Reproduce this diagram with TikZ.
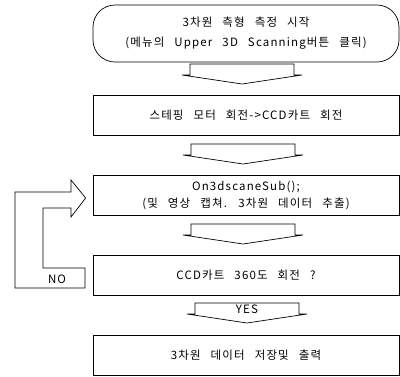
\documentclass[tikz,border=0pt]{standalone}
\usepackage{fontspec}
\setmainfont{Noto Sans CJK KR}[LetterSpace=10,WordSpace=2.7]
\usetikzlibrary{calc}
\begin{document}
\begin{tikzpicture}[x=1pt,y=-1pt,line width=0.7pt,
  txt/.style={font=\fontsize{11.5}{17}\selectfont},
  box/.style={draw,txt,minimum width=306pt,minimum height=40pt,inner sep=0pt,align=center},
  blk/.style={draw,line join=miter},
  blockarrow/.pic={\draw[blk] (-52,0) -- (52,0) -- (52,11) -- (60,11) -- (0,20) -- (-60,11) -- (-52,11) -- cycle;}
  ]
\useasboundingbox (0,0) rectangle (400,376);
\node[box,rounded corners=22pt,minimum height=57pt] (start) at (246,33.5)
  {3차원 측형 측정 시작\\[3pt](메뉴의 Upper 3D Scanning버튼 클릭)};
\node[box] (b2) at (246,115) {스테핑 모터 회전->CCD카트 회전};
\node[box] (b3) at (246,195) {On3dscaneSub();\\(및 영상 캡쳐. 3차원 데이터 추출)};
\node[box] (b4) at (246,275) {CCD카트 360도 회전 ?};
\node[box] (b5) at (246,355) {3차원 데이터 저장및 출력};
\pic at (242,64) {blockarrow};
\pic at (243,144) {blockarrow};
\pic at (243,224) {blockarrow};
\pic at (247,303) {blockarrow};
\node[txt] (yes) at (247,309) {YES};
\draw[blk] (85,288) -- (15,288) -- (15,192) -- (71,192) -- (71,180)
  -- ($(b3.west)+(-7,3)$) -- (71,217) -- (71,208) -- (43,208) -- (43,268) -- (85,268) -- cycle;
\node[txt] (no) at (57,279) {NO};
\end{tikzpicture}
\end{document}
